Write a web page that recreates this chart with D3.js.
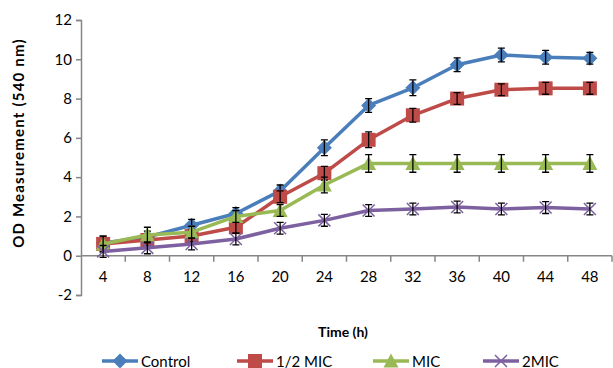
<html lang='en'>
<head>
<meta charset='UTF-8'>
<script src='https://d3js.org/d3.v7.min.js'></script>
<style>
  body { margin: 0; padding: 0; background: white; }
  text { font-family: Lato, 'Open Sans', sans-serif; }
</style>
</head>
<body>
<div id='chart'></div>
<script>
// data
var hours = ['4','8','12','16','20','24','28','32','36','40','44','48'];
var yTicks = [-2, 0, 2, 4, 6, 8, 10, 12];
var seriesNames = ['Control', '1/2 MIC', 'MIC', '2MIC'];
var control = [0.65, 0.95, 1.55, 2.15, 3.3, 5.5, 7.65, 8.55, 9.72, 10.22, 10.1, 10.05];
var halfMic = [0.6, 0.8, 1.0, 1.45, 3.0, 4.2, 5.9, 7.15, 8.0, 8.45, 8.52, 8.52];
var mic = [0.6, 1.05, 1.2, 2.0, 2.3, 3.6, 4.7, 4.7, 4.7, 4.7, 4.7, 4.7];
var twoMic = [0.22, 0.4, 0.6, 0.85, 1.4, 1.8, 2.3, 2.38, 2.48, 2.38, 2.45, 2.38];
var controlErr = [0.2, 0.3, 0.3, 0.3, 0.3, 0.4, 0.35, 0.4, 0.35, 0.35, 0.35, 0.3];
var halfMicErr = [0.4, 0.3, 0.3, 0.3, 0.3, 0.35, 0.4, 0.35, 0.3, 0.3, 0.3, 0.3];
var micErr = [0.4, 0.4, 0.3, 0.3, 0.3, 0.4, 0.45, 0.45, 0.45, 0.45, 0.45, 0.45];
var twoMicErr = [0.3, 0.3, 0.3, 0.3, 0.3, 0.3, 0.3, 0.3, 0.3, 0.3, 0.3, 0.3];

var colors = ['#4A7EBB', '#BE4B48', '#98B954', '#7D60A0'];
var symbols = ['diamond', 'square', 'triangle', 'cross'];
var allValues = [control, halfMic, mic, twoMic];
var allErrors = [controlErr, halfMicErr, micErr, twoMicErr];

var width = 613, height = 368;
var plotLeft = 81, plotRight = 612, plotTop = 20, plotBottom = 295;

var svg = d3.select('#chart').append('svg')
  .attr('width', width)
  .attr('height', height);

var x = d3.scaleBand().domain(hours).range([plotLeft, plotRight]);
var y = d3.scaleLinear().domain([-2, 12]).range([plotBottom, plotTop]);

// y axis
var yAxis = svg.append('g')
  .attr('transform', 'translate(' + plotLeft + ',0)')
  .call(d3.axisLeft(y).tickValues(yTicks).tickSize(5).tickPadding(4)
    .tickFormat(function (d) { return String(d); }));
yAxis.select('.domain').attr('stroke', '#868686').attr('stroke-width', 1.5);
yAxis.selectAll('.tick line').attr('stroke', '#868686').attr('stroke-width', 1.5);
yAxis.selectAll('.tick text').attr('font-size', 15).attr('fill', '#000')
  .attr('font-family', 'Lato, sans-serif');

// x axis on the zero line, tick marks between categories
var xg = svg.append('g');
xg.append('line')
  .attr('x1', plotLeft).attr('x2', plotRight)
  .attr('y1', y(0)).attr('y2', y(0))
  .attr('stroke', '#868686').attr('stroke-width', 1.5);
var bounds = hours.slice(1).map(function (h) { return x(h); }).concat([plotRight]);
xg.selectAll('.xt').data(bounds).enter().append('line')
  .attr('x1', function (d) { return d; }).attr('x2', function (d) { return d; })
  .attr('y1', y(0)).attr('y2', y(0) + 6)
  .attr('stroke', '#868686').attr('stroke-width', 1.5);
xg.selectAll('.xl').data(hours).enter().append('text')
  .attr('x', function (d) { return x(d) + x.bandwidth() / 2; })
  .attr('y', y(0) + 26)
  .attr('text-anchor', 'middle')
  .attr('font-size', 15)
  .text(function (d) { return d; });

// axis titles
svg.append('text')
  .attr('x', 343).attr('y', 337)
  .attr('text-anchor', 'middle')
  .attr('font-size', 14).attr('font-weight', 'bold')
  .text('Time (h)');
svg.append('text')
  .attr('transform', 'translate(24,' + 143 + ') rotate(-90)')
  .attr('text-anchor', 'middle')
  .attr('font-size', 15).attr('font-weight', 'bold')
  .attr('letter-spacing', 1.2)
  .text('OD Measurement  (540 nm)');

function drawMarker(g, kind, color, cx, cy) {
  if (kind === 'diamond') {
    g.append('path').attr('d', 'M' + cx + ',' + (cy - 7.5) + 'L' + (cx + 7.5) + ',' + cy +
      'L' + cx + ',' + (cy + 7.5) + 'L' + (cx - 7.5) + ',' + cy + 'Z').attr('fill', color);
  } else if (kind === 'square') {
    g.append('rect').attr('x', cx - 7).attr('y', cy - 7)
      .attr('width', 14).attr('height', 14).attr('fill', color);
  } else if (kind === 'triangle') {
    g.append('path').attr('d', 'M' + cx + ',' + (cy - 7.5) + 'L' + (cx + 7.5) + ',' + (cy + 6.5) +
      'L' + (cx - 7.5) + ',' + (cy + 6.5) + 'Z').attr('fill', color);
  } else {
    g.append('path').attr('d', 'M' + (cx - 6) + ',' + (cy - 6) + 'L' + (cx + 6) + ',' + (cy + 6) +
      'M' + (cx + 6) + ',' + (cy - 6) + 'L' + (cx - 6) + ',' + (cy + 6))
      .attr('stroke', color).attr('stroke-width', 1.5).attr('fill', 'none');
  }
}

var line = d3.line()
  .x(function (d, i) { return x(hours[i]) + x.bandwidth() / 2; })
  .y(function (d) { return y(d); });

for (let s = 0; s < allValues.length; s++) {
  var g = svg.append('g');
  g.append('path')
    .attr('d', line(allValues[s]))
    .attr('fill', 'none')
    .attr('stroke', colors[s])
    .attr('stroke-width', 3.5)
    .attr('stroke-linejoin', 'round');
  for (let i = 0; i < hours.length; i++) {
    var cx = x(hours[i]) + x.bandwidth() / 2;
    drawMarker(g, symbols[s], colors[s], cx, y(allValues[s][i]));
  }
  // error bars
  for (let i = 0; i < hours.length; i++) {
    var cx = x(hours[i]) + x.bandwidth() / 2;
    var hi = y(allValues[s][i] + allErrors[s][i]);
    var lo = y(allValues[s][i] - allErrors[s][i]);
    g.append('path')
      .attr('d', 'M' + cx + ',' + hi + 'L' + cx + ',' + lo +
        'M' + (cx - 3.5) + ',' + hi + 'L' + (cx + 3.5) + ',' + hi +
        'M' + (cx - 3.5) + ',' + lo + 'L' + (cx + 3.5) + ',' + lo)
      .attr('stroke', '#000').attr('stroke-width', 1.3).attr('fill', 'none');
  }
}

// legend
var legendX = [102, 237, 373, 483];
for (let s = 0; s < seriesNames.length; s++) {
  var lg = svg.append('g');
  var x0 = legendX[s], ly = 361;
  lg.append('line')
    .attr('x1', x0).attr('x2', x0 + 36)
    .attr('y1', ly).attr('y2', ly)
    .attr('stroke', colors[s]).attr('stroke-width', 3.5);
  drawMarker(lg, symbols[s], colors[s], x0 + 18, ly);
  lg.append('text')
    .attr('x', x0 + 39).attr('y', ly + 5.5)
    .attr('font-size', 15)
    .text(seriesNames[s]);
}
</script>
</body>
</html>
